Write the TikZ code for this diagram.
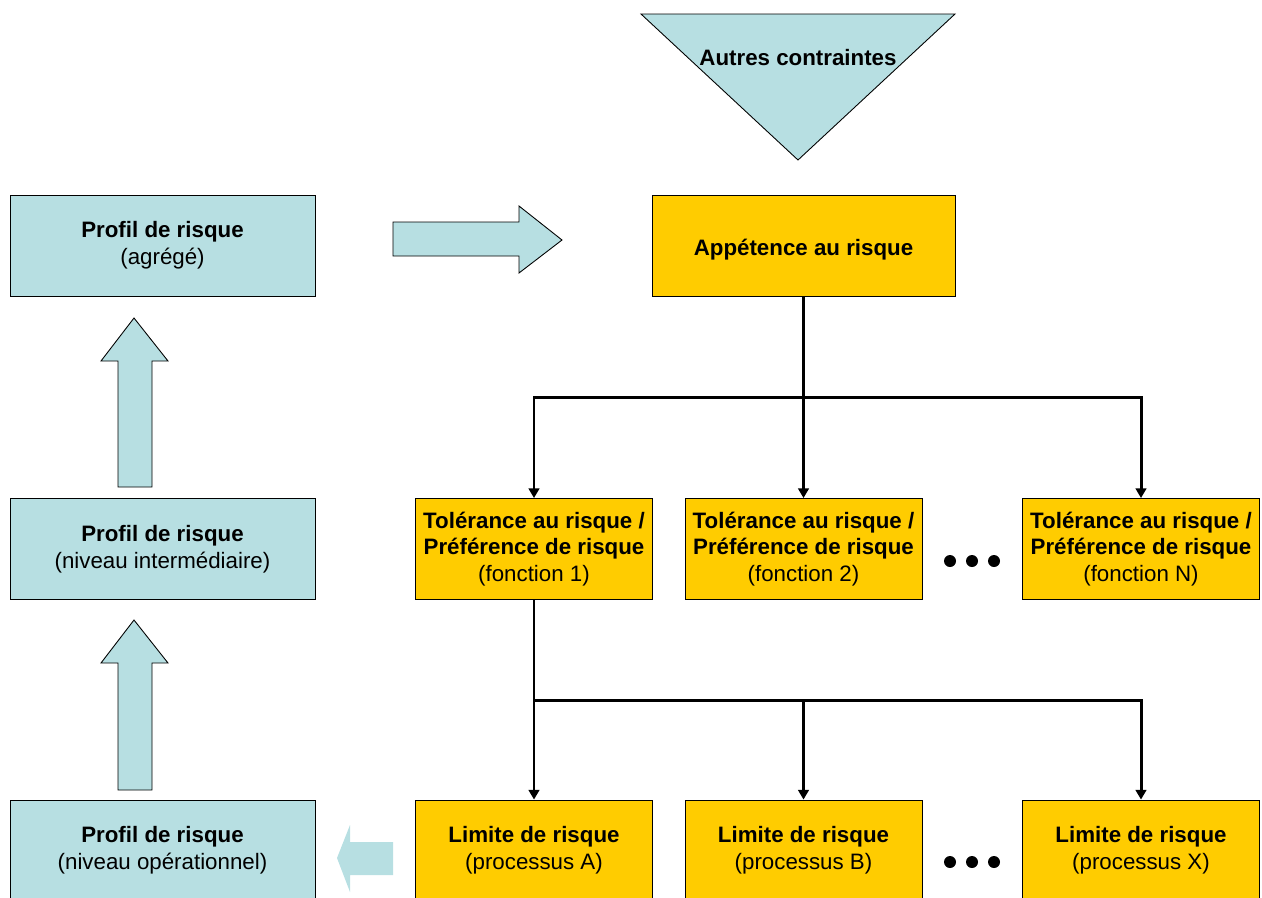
\documentclass[tikz,border=0pt]{standalone}
\usepackage{fontspec}
\setmainfont{Liberation Sans}
\usetikzlibrary{arrows.meta}

\definecolor{paleblue}{HTML}{B7DFE2}
\definecolor{gold}{HTML}{FFCC00}

\tikzset{
  box/.style={draw=black,line width=0.5pt,minimum width=4.74cm,minimum height=2.02cm,
    inner sep=0pt,align=center,font=\fontsize{12.7}{15.3}\selectfont,
    execute at begin node={\rule{0pt}{14.4pt}}},
  profil/.style={box,fill=paleblue,minimum width=6.1cm},
  risk/.style={box,fill=gold},
  link/.style={line width=1.7pt,-{Triangle[length=5.5pt,width=6pt]}},
  bigarrow/.style={draw=black,line width=0.5pt,fill=paleblue},
  dot/.style={fill=black}
}

\begin{document}
\begin{tikzpicture}[x=0.02cm,y=-0.02cm]
\useasboundingbox (0,0) rectangle (1262,897);
\begin{scope}
\clip (0,0) rectangle (1262,897);

% autres contraintes
\draw[bigarrow] (641,14) -- (955,14) -- (798,160) -- cycle;
\node[font=\fontsize{12.7}{15.3}\selectfont\bfseries] (contraintes) at (798,58) {Autres contraintes};

% profils de risque
\node[profil] (agrege) at (162.5,245.5) {\textbf{Profil de risque}\\(agrégé)};
\node[profil] (inter) at (162.5,549) {\textbf{Profil de risque}\\(niveau intermédiaire)};
\node[profil] (oper) at (162.5,850.5) {\textbf{Profil de risque}\\(niveau opérationnel)};

% appetence, tolerances, limites
\node[risk,minimum width=6.06cm] (app) at (803.5,245.5) {\textbf{Appétence au risque}};
\node[risk] (tol1) at (534,549) {\textbf{Tolérance au risque /}\\\textbf{Préférence de risque}\\(fonction 1)};
\node[risk] (tol2) at (803.5,549) {\textbf{Tolérance au risque /}\\\textbf{Préférence de risque}\\(fonction 2)};
\node[risk] (tol3) at (1141,549) {\textbf{Tolérance au risque /}\\\textbf{Préférence de risque}\\(fonction N)};
\node[risk] (lim1) at (534,850.5) {\textbf{Limite de risque}\\(processus A)};
\node[risk] (lim2) at (803.5,850.5) {\textbf{Limite de risque}\\(processus B)};
\node[risk] (lim3) at (1141,850.5) {\textbf{Limite de risque}\\(processus X)};

% connecteurs
\coordinate (split1) at (803.5,397);
\coordinate (split2) at (534,700);
\draw[link] (app.south) -- (tol2.north);
\draw[link] (split1) -| (tol1.north);
\draw[link] (split1) -| (tol3.north);
\draw[link] (tol1.south) -- (lim1.north);
\draw[link] (split2) -| (lim2.north);
\draw[link] (split2) -| (lim3.north);

% points de suspension
\fill[dot] (950,561) circle[radius=0.12cm] (972,561) circle[radius=0.12cm] (994,561) circle[radius=0.12cm];
\fill[dot] (950,862) circle[radius=0.12cm] (972,862) circle[radius=0.12cm] (994,862) circle[radius=0.12cm];

% fleches
\draw[bigarrow] (393,222) -- (519,222) -- (519,206) -- (562,240) -- (519,273) -- (519,256) -- (393,256) -- cycle;
\draw[bigarrow] (118,487) -- (118,361) -- (101,361) -- (134,318) -- (168,361) -- (152,361) -- (152,487) -- cycle;
\draw[bigarrow] (118,790) -- (118,663) -- (101,663) -- (134,620) -- (168,663) -- (152,663) -- (152,790) -- cycle;
\fill[paleblue] (393,842) -- (350,842) -- (350,825) -- (337,858) -- (350,892) -- (350,875) -- (393,875) -- cycle;
\end{scope}
\end{tikzpicture}
\end{document}
